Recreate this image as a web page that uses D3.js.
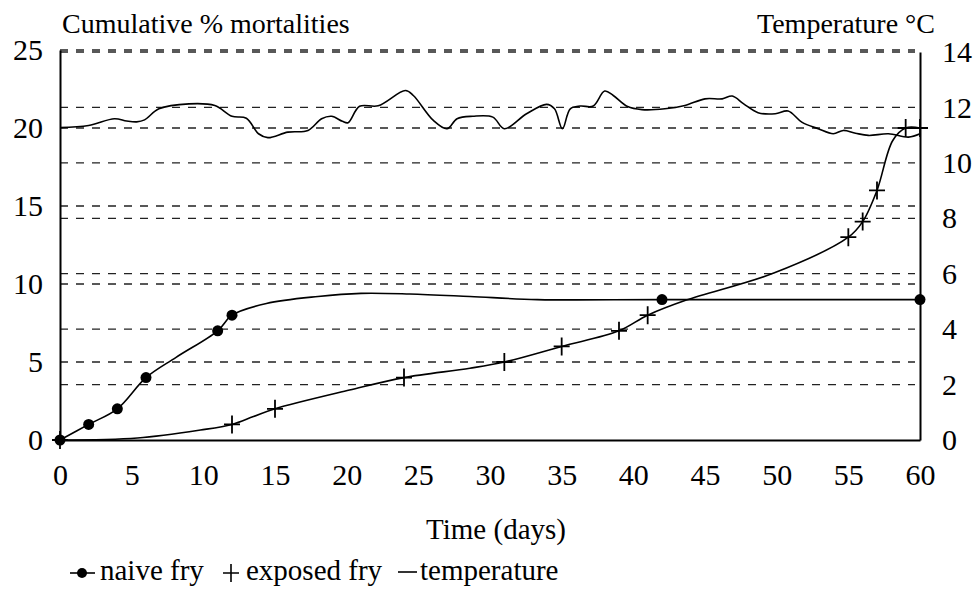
<!DOCTYPE html>
<html>
<head>
<meta charset="utf-8">
<title>Cumulative mortalities and temperature</title>
<script src="https://d3js.org/d3.v7.min.js"></script>
<style>
  body { margin: 0; background: #fff; }
  svg text { font-family: "Liberation Serif", "Times New Roman", Times, "Nimbus Roman", "DejaVu Serif", serif; fill: #000; }
</style>
</head>
<body>
<script>
var width = 975;
var height = 592;
var plotLeft = 60, plotRight = 920, plotTop = 50, plotBottom = 440;
var serifFont = "'Liberation Serif', 'Times New Roman', Times, 'Nimbus Roman', 'DejaVu Serif', serif";

// tick values
var dayTicks = [0, 5, 10, 15, 20, 25, 30, 35, 40, 45, 50, 55, 60];
var pctTicks = [0, 5, 10, 15, 20, 25];
var tempTicks = [0, 2, 4, 6, 8, 10, 12, 14];

// naive fry: measured points (markers) and the drawn curve
var naiveDays = [0, 2, 4, 6, 11, 12, 42, 60];
var naiveVals = [0, 1, 2, 4, 7, 8, 9, 9];
var naiveCurveDays = [0, 2, 4, 6, 8.1, 11, 12, 14.4, 18, 21, 24.4, 28.6, 33.3, 42, 60];
var naiveCurveVals = [0, 1, 2, 4, 5.3, 7, 8, 8.75, 9.2, 9.4, 9.36, 9.2, 9.0, 9, 9];

// exposed fry
var exposedDays = [0, 12, 15, 24, 31, 35, 39, 41, 55, 56, 57, 59, 60];
var exposedVals = [0, 1, 2, 4, 5, 6, 7, 8, 13, 14, 16, 20, 20];
var exposedCurveDays = [0, 5.4, 9.8, 12, 13.5, 15, 20.2, 24, 28.6, 31, 35, 39, 41, 43.7, 49.8, 55, 56, 57, 58.1, 59, 60];
var exposedCurveVals = [0, 0.13, 0.64, 1, 1.5, 2, 3.2, 4, 4.6, 5, 6, 7, 8, 8.97, 10.7, 13, 14, 16, 19.2, 20, 20];

// temperature (right axis)
var tempDays = [0, 2, 3.8, 4.65, 5.35, 5.9, 6.9, 9, 10.8, 12, 13, 13.85, 14.5, 15.9, 17.3, 18.25, 18.95, 19.7, 20.1,
  20.9, 22.2, 24.1, 24.65, 26.05, 27, 27.7, 28.8, 30.2, 31, 32.55, 33.95, 34.5, 35.05, 35.6, 36.3, 37.2, 38, 38.6,
  39.6, 40.6, 42.2, 43.6, 45, 46.2, 46.9, 47.7, 48.7, 49.9, 50.8, 51.75, 52.9, 53.95, 54.65, 55.5, 56.4, 57.8, 59.2, 60];
var tempVals = [11.27, 11.35, 11.59, 11.51, 11.48, 11.55, 11.95, 12.13, 12.07, 11.68, 11.61, 11.05, 10.91, 11.11, 11.17, 11.59, 11.68, 11.5, 11.45,
  12.04, 12.06, 12.61, 12.43, 11.53, 11.23, 11.59, 11.68, 11.65, 11.23, 11.77, 12.11, 11.95, 11.23, 11.95, 12.05, 12.05, 12.59, 12.43,
  12.03, 11.92, 11.95, 12.07, 12.31, 12.31, 12.41, 12.13, 11.81, 11.77, 11.87, 11.47, 11.23, 11.05, 11.17, 11.07, 10.99, 11.05, 10.93, 11.05];

var legendLabels = ["naive fry", "exposed fry", "temperature"];

function zip(xs, ys) {
  return xs.map(function(d, i) { return [d, ys[i]]; });
}

var x = d3.scaleLinear().domain([0, 60]).range([plotLeft, plotRight]);
var yLeft = d3.scaleLinear().domain([0, 25]).range([plotBottom, plotTop]);
var yRight = d3.scaleLinear().domain([0, 14]).range([plotBottom, 52]);

var svg = d3.select("body").append("svg")
    .attr("width", width)
    .attr("height", height)
    .style("font-family", serifFont);

// dashed grid lines, for both scales
var gridYs = pctTicks.filter(function(d) { return d > 0; }).map(function(d) { return yLeft(d); })
  .concat(tempTicks.filter(function(d) { return d > 0; }).map(function(d) { return yRight(d); }));

svg.append("g")
    .attr("class", "grid")
  .selectAll("line")
  .data(gridYs)
  .enter().append("line")
    .attr("x1", plotLeft)
    .attr("x2", plotRight - 5)
    .attr("y1", function(d) { return d; })
    .attr("y2", function(d) { return d; })
    .attr("stroke", "#222")
    .attr("stroke-width", 1.3)
    .attr("stroke-dasharray", "8,8");

// axes
function styleAxis(g) {
  g.attr("font-family", serifFont)
   .attr("font-size", 30);
  g.select(".domain").attr("stroke", "#000").attr("stroke-width", 2);
  g.selectAll(".tick line").remove();
  g.selectAll(".tick text").style("font-family", serifFont);
}

svg.append("g")
    .attr("transform", "translate(" + plotLeft + ",0)")
    .call(d3.axisLeft(yLeft).tickValues(pctTicks).tickSize(0).tickPadding(17))
    .call(styleAxis);

svg.append("g")
    .attr("transform", "translate(" + plotRight + ",0)")
    .call(d3.axisRight(yRight).tickValues(tempTicks).tickSize(0).tickPadding(22))
    .call(styleAxis);

svg.append("g")
    .attr("transform", "translate(0," + plotBottom + ")")
    .call(d3.axisBottom(x).tickValues(dayTicks).tickSize(0).tickPadding(24))
    .call(styleAxis);

// lines
var lineLeft = d3.line()
    .x(function(d) { return x(d[0]); })
    .y(function(d) { return yLeft(d[1]); })
    .curve(d3.curveCatmullRom.alpha(0.5));

var lineRight = d3.line()
    .x(function(d) { return x(d[0]); })
    .y(function(d) { return yRight(d[1]); })
    .curve(d3.curveCatmullRom.alpha(0.5));

svg.append("path")
    .datum(zip(tempDays, tempVals))
    .attr("d", lineRight)
    .attr("fill", "none")
    .attr("stroke", "#000")
    .attr("stroke-width", 1.6);

svg.append("path")
    .datum(zip(naiveCurveDays, naiveCurveVals))
    .attr("d", lineLeft)
    .attr("fill", "none")
    .attr("stroke", "#000")
    .attr("stroke-width", 1.6);

svg.append("path")
    .datum(zip(exposedCurveDays, exposedCurveVals))
    .attr("d", lineLeft)
    .attr("fill", "none")
    .attr("stroke", "#000")
    .attr("stroke-width", 1.6);

// markers
svg.append("g").selectAll("circle")
  .data(zip(naiveDays, naiveVals))
  .enter().append("circle")
    .attr("cx", function(d) { return x(d[0]); })
    .attr("cy", function(d) { return yLeft(d[1]); })
    .attr("r", 5.5)
    .attr("fill", "#000");

var plusPath = "M-8,0H8M0,-9V9";
svg.append("g").selectAll("path")
  .data(zip(exposedDays, exposedVals))
  .enter().append("path")
    .attr("transform", function(d) { return "translate(" + x(d[0]) + "," + yLeft(d[1]) + ")"; })
    .attr("d", plusPath)
    .attr("stroke", "#000")
    .attr("stroke-width", 1.8)
    .attr("fill", "none");

// titles
svg.append("text")
    .attr("x", 62)
    .attr("y", 33)
    .attr("font-size", 28)
    .text("Cumulative % mortalities");

svg.append("text")
    .attr("x", 935)
    .attr("y", 33)
    .attr("font-size", 28)
    .attr("text-anchor", "end")
    .text("Temperature \u00B0C");

svg.append("text")
    .attr("x", 496)
    .attr("y", 539)
    .attr("font-size", 29)
    .attr("text-anchor", "middle")
    .text("Time (days)");

// legend
var legendY = 573;
var legend = svg.append("g").attr("font-size", 29);

legend.append("line")
    .attr("x1", 70).attr("x2", 95).attr("y1", legendY).attr("y2", legendY)
    .attr("stroke", "#000").attr("stroke-width", 1.6);
legend.append("circle")
    .attr("cx", 82).attr("cy", legendY).attr("r", 5).attr("fill", "#000");
legend.append("text").attr("x", 100).attr("y", 580).text(legendLabels[0]);

legend.append("path")
    .attr("transform", "translate(231," + legendY + ")")
    .attr("d", plusPath)
    .attr("stroke", "#000").attr("stroke-width", 1.6);
legend.append("text").attr("x", 246).attr("y", 580).text(legendLabels[1]);

legend.append("line")
    .attr("x1", 398).attr("x2", 417).attr("y1", legendY - 1).attr("y2", legendY - 1)
    .attr("stroke", "#000").attr("stroke-width", 1.6);
legend.append("text").attr("x", 420).attr("y", 580).text(legendLabels[2]);
</script>
</body>
</html>
